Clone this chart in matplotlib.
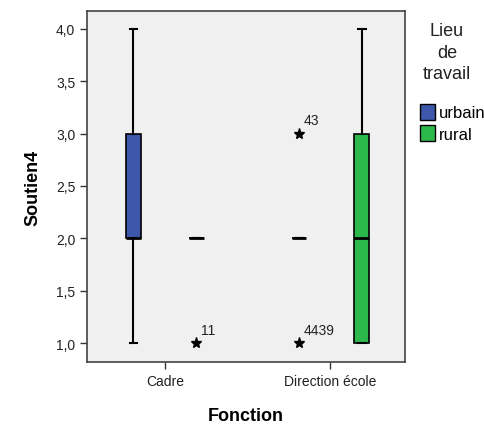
import matplotlib.pyplot as plt
from matplotlib.patches import Patch

plt.rcParams['font.family'] = ['Liberation Sans', 'DejaVu Sans']

categories = ['Cadre', 'Direction école']
groups = ['urbain', 'rural']
colors = ['#3d57ab', '#2db84b']

# box stats per (category, group): whislo, q1, med, q3, whishi
whislo = [[1, 2], [2, 1]]
q1 = [[2, 2], [2, 1]]
med = [[2, 2], [2, 2]]
q3 = [[3, 2], [2, 3]]
whishi = [[4, 2], [2, 4]]

# extreme values (stars) with case labels
outliers = [[[], [(1, '11')]], [[(3, '43'), (1, '4439')], []]]

fig = plt.figure(figsize=(4.84, 4.31), dpi=100)
ax = fig.add_axes([87/484, 1 - 363/431, 318/484, 351/431])
ax.set_facecolor('#f0f0f0')

offset = 0.19
width = 0.09
for i, cat in enumerate(categories):
    for j, g in enumerate(groups):
        pos = i + (j - 0.5) * 2 * offset
        st = dict(whislo=whislo[i][j], q1=q1[i][j], med=med[i][j],
                  q3=q3[i][j], whishi=whishi[i][j], fliers=[])
        ax.bxp([st], positions=[pos], widths=width, patch_artist=True,
               showfliers=False,
               boxprops=dict(facecolor=colors[j], edgecolor='black', linewidth=1.2),
               medianprops=dict(color='black', linewidth=2),
               whiskerprops=dict(color='black', linewidth=1.5),
               capprops=dict(color='black', linewidth=1.5),
               capwidths=width * 0.5)
        for val, lab in outliers[i][j]:
            ax.plot(pos, val, marker='*', color='black', markersize=8, linestyle='none')
            ax.text(pos + 0.03, val + 0.06, lab, fontsize=10, color='#222222',
                    ha='left', va='bottom')

ax.set_xlim(-0.47, 1.45)
ax.set_ylim(0.82, 4.17)
ax.set_xticks(range(len(categories)))
ax.set_xticklabels(categories, fontsize=10, color='#222222')
yt = [1.0, 1.5, 2.0, 2.5, 3.0, 3.5, 4.0]
ax.set_yticks(yt)
ax.set_yticklabels([f'{v:.1f}'.replace('.', ',') for v in yt], fontsize=10, color='#222222')
ax.tick_params(length=5, width=1, color='#333333')
for s in ax.spines.values():
    s.set_color('#444444')
    s.set_linewidth(1.2)

ax.set_xlabel('Fonction', fontsize=13, fontweight='bold', labelpad=14)
ax.set_ylabel('Soutien4', fontsize=13, fontweight='bold', labelpad=10)

fig.text(447/484, 1 - 23/431, 'Lieu\nde\ntravail', ha='center', va='top',
         fontsize=13, linespacing=1.35, color='#222222')
handles = [Patch(facecolor=c, edgecolor='black', label=g) for c, g in zip(colors, groups)]
leg = fig.legend(handles=handles, loc='upper left',
                 bbox_to_anchor=(408/484, 1 - 93/431), frameon=False, fontsize=12,
                 handlelength=0.95, handleheight=1.1,
                 handletextpad=0.2, borderpad=0.2, labelspacing=0.3)

fig.savefig('out.png', dpi=100)
